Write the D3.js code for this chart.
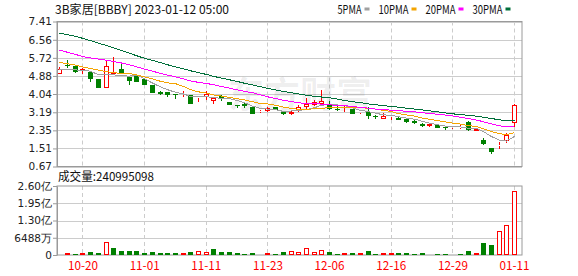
<!DOCTYPE html>
<html>
<head>
<meta charset="utf-8">
<script src="https://cdn.jsdelivr.net/npm/d3@7"></script>
<style>
  body { margin: 0; background: #fff; }
  svg text { font-family: 'Noto Sans CJK SC', sans-serif; }
</style>
</head>
<body>
<svg id="chart" width="578" height="276"></svg>
<script>
// trading days, 2022-10-17 .. 2023-01-11
const dates = ['10-17', '10-18', '10-19', '10-20', '10-21', '10-24', '10-25', '10-26', '10-27', '10-28', '10-31',
  '11-01', '11-02', '11-03', '11-04', '11-07', '11-08', '11-09', '11-10', '11-11', '11-14', '11-15', '11-16',
  '11-17', '11-18', '11-21', '11-22', '11-23', '11-25', '11-28', '11-29', '11-30', '12-01', '12-02', '12-05',
  '12-06', '12-07', '12-08', '12-09', '12-12', '12-13', '12-14', '12-15', '12-16', '12-19', '12-20', '12-21',
  '12-22', '12-23', '12-27', '12-28', '12-29', '12-30', '01-03', '01-04', '01-05', '01-06', '01-09', '01-10', '01-11']
const tickDates = ['10-20', '11-01', '11-11', '11-23', '12-06', '12-16', '12-29', '01-11']

const open = [4.99, 5.41, 5.33, 5.11, 5.07, 4.73, 4.34, 4.95, 5.19, 4.81,
  4.87, 4.73, 4.45, 4.12, 4.11, 4.03, 3.99, 4.01, 3.87, 3.89,
  3.70, 3.95, 3.67, 3.53, 3.56, 3.44, 3.20, 3.27, 3.44, 3.20,
  3.10, 3.27, 3.44, 3.52, 3.56, 3.59, 3.36, 3.39, 3.36, 3.15,
  3.20, 3.02, 2.90, 2.98, 2.94, 2.86, 2.78, 2.63, 2.54, 2.60,
  2.50, 2.46, 2.45, 2.74, 2.33, 1.91, 1.52, 1.62, 1.85, 2.71]
const high = [5.30, 5.61, 5.35, 5.27, 5.07, 4.76, 5.57, 5.77, 5.46, 4.81,
  4.99, 4.76, 4.45, 4.17, 4.13, 4.04, 4.18, 4.01, 3.92, 4.18,
  3.84, 3.98, 3.67, 3.53, 3.61, 3.45, 3.29, 3.42, 3.44, 3.20,
  3.31, 3.52, 3.86, 3.78, 4.21, 3.72, 3.48, 3.48, 3.36, 3.22,
  3.44, 3.08, 3.14, 3.08, 2.97, 2.92, 2.85, 2.68, 2.65, 2.62,
  2.55, 2.55, 2.60, 2.77, 2.45, 1.99, 1.52, 1.82, 2.22, 3.59]
const low = [4.99, 5.23, 5.03, 4.96, 4.60, 4.34, 4.34, 4.91, 4.99, 4.48,
  4.60, 4.45, 4.09, 3.98, 3.90, 3.80, 3.90, 3.58, 3.67, 3.75,
  3.58, 3.70, 3.53, 3.39, 3.37, 3.10, 3.14, 3.20, 3.30, 3.05,
  3.05, 3.20, 3.36, 3.48, 3.56, 3.28, 3.24, 3.20, 3.10, 3.10,
  2.89, 2.89, 2.90, 2.85, 2.82, 2.71, 2.64, 2.50, 2.50, 2.44,
  2.38, 2.40, 2.42, 2.30, 2.30, 1.65, 1.26, 1.50, 1.74, 2.50]
const close = [5.18, 5.35, 5.07, 5.18, 4.73, 4.34, 5.33, 5.07, 4.99, 4.63,
  4.60, 4.45, 4.09, 4.06, 4.01, 3.99, 4.03, 3.58, 3.92, 4.03,
  3.84, 3.80, 3.53, 3.49, 3.47, 3.13, 3.25, 3.38, 3.30, 3.10,
  3.20, 3.42, 3.58, 3.68, 3.71, 3.36, 3.30, 3.43, 3.13, 3.20,
  3.02, 2.96, 3.02, 3.04, 2.85, 2.74, 2.68, 2.55, 2.63, 2.47,
  2.44, 2.50, 2.49, 2.35, 2.40, 1.73, 1.34, 1.66, 2.12, 3.51]
const volume = [4900000, 7500000, 5000000, 7500000, 11300000, 7500000, 49000000, 26000000, 16000000, 16000000,
  16000000, 8800000, 11300000, 7500000, 7500000, 7500000, 7500000, 11300000, 15000000, 11300000,
  22600000, 11300000, 11300000, 7500000, 3800000, 7500000, 3800000, 7500000, 3800000, 11300000,
  15000000, 11300000, 25000000, 11300000, 17600000, 11300000, 3800000, 7500000, 7500000, 7500000,
  15000000, 3800000, 7500000, 7500000, 7500000, 7500000, 3800000, 7500000, 3800000, 3800000,
  3800000, 3800000, 3800000, 15000000, 7500000, 45000000, 37600000, 90000000, 113000000, 240995098]

const ma5 = [5.20, 5.18, 5.16, 5.14, 5.10, 4.93, 4.93, 4.93, 4.89, 4.87,
  4.92, 4.75, 4.55, 4.37, 4.24, 4.12, 4.04, 3.93, 3.91, 3.91,
  3.88, 3.83, 3.82, 3.74, 3.63, 3.48, 3.37, 3.34, 3.31, 3.23,
  3.25, 3.28, 3.32, 3.40, 3.52, 3.55, 3.53, 3.50, 3.39, 3.28,
  3.22, 3.15, 3.07, 3.05, 2.98, 2.92, 2.87, 2.77, 2.69, 2.61,
  2.55, 2.52, 2.51, 2.45, 2.44, 2.29, 2.06, 1.90, 1.85, 2.07]
const ma10 = [5.51, 5.45, 5.38, 5.30, 5.23, 5.15, 5.08, 5.03, 5.00, 4.99,
  4.93, 4.84, 4.74, 4.63, 4.56, 4.52, 4.39, 4.24, 4.14, 4.08,
  4.00, 3.94, 3.88, 3.82, 3.77, 3.68, 3.60, 3.58, 3.52, 3.43,
  3.37, 3.33, 3.33, 3.35, 3.38, 3.40, 3.40, 3.41, 3.39, 3.40,
  3.38, 3.34, 3.28, 3.22, 3.13, 3.07, 3.01, 2.92, 2.87, 2.80,
  2.74, 2.69, 2.64, 2.57, 2.53, 2.42, 2.29, 2.20, 2.15, 2.25]
const ma20 = [6.08, 5.98, 5.88, 5.78, 5.72, 5.66, 5.61, 5.55, 5.48, 5.40,
  5.30, 5.20, 5.10, 5.00, 4.92, 4.84, 4.74, 4.65, 4.58, 4.53,
  4.47, 4.39, 4.31, 4.23, 4.16, 4.10, 4.00, 3.91, 3.83, 3.75,
  3.69, 3.63, 3.60, 3.59, 3.57, 3.54, 3.50, 3.50, 3.46, 3.42,
  3.38, 3.34, 3.31, 3.29, 3.26, 3.24, 3.21, 3.17, 3.13, 3.10,
  3.06, 3.02, 2.96, 2.90, 2.83, 2.75, 2.65, 2.56, 2.51, 2.53]
const ma30 = [6.86, 6.80, 6.72, 6.63, 6.52, 6.40, 6.30, 6.18, 6.06, 5.94,
  5.82, 5.70, 5.60, 5.50, 5.40, 5.30, 5.21, 5.12, 5.03, 4.95,
  4.86, 4.78, 4.70, 4.62, 4.54, 4.46, 4.38, 4.30, 4.23, 4.16,
  4.10, 4.04, 3.98, 3.93, 3.90, 3.87, 3.80, 3.74, 3.68, 3.64,
  3.58, 3.54, 3.50, 3.46, 3.43, 3.38, 3.34, 3.30, 3.26, 3.21,
  3.16, 3.12, 3.08, 3.05, 3.01, 2.96, 2.90, 2.84, 2.80, 2.82]

const priceTicks = ['0.67', '1.51', '2.35', '3.19', '4.04', '4.88', '5.72', '6.56', '7.41']
const volTickValues = [0, 64880000, 129760000, 194640000, 259520000]
const volTickLabels = ['0', '6488万', '1.30亿', '1.95亿', '2.60亿']

const maNames = ['5PMA', '10PMA', '20PMA', '30PMA']
const maColors = ['#a0a0a0', '#f4a400', '#ff00ff', '#006f3a']
const maSeries = [ma5, ma10, ma20, ma30]

const RED = '#ff0000'
const GREEN = '#008000'
const GRID = '#cccccc'
const FRAME = '#9a9a9a'

// layout
const left = 57
const right = 522
const priceTop = 21.5
const priceBottom = 166.5
const volTop = 186
const volBottom = 255

const svg = d3.select('#chart')

// width of text in half-width cells of 6px (bitmap-like font)
function cells(s) {
  let n = 0
  for (const c of s) n += c.charCodeAt(0) > 255 ? 2 : 1
  return n * 6
}
function monoText(g, str, xPos, yPos) {
  return g.append('text')
    .attr('x', xPos)
    .attr('y', yPos)
    .attr('textLength', cells(str))
    .attr('lengthAdjust', 'spacingAndGlyphs')
    .style('font-size', '12px')
    .text(str)
}

const x = d3.scaleBand().domain(dates).range([56, 518.4]).paddingInner(0.35).paddingOuter(0.175)
const cx = (i) => Math.floor(x(dates[i]) + x.bandwidth() / 2)

const y = d3.scaleLinear().domain([0.67, 7.41]).range([priceBottom, priceTop])
const yv = d3.scaleLinear().domain([0, 259520000]).range([volBottom, volTop])

// grid: horizontal
svg.append('g')
  .selectAll('line')
  .data(priceTicks.map(Number))
  .join('line')
  .attr('x1', left).attr('x2', right)
  .attr('y1', (d) => Math.round(y(d)) + 0.5).attr('y2', (d) => Math.round(y(d)) + 0.5)
  .attr('stroke', GRID)

svg.append('g')
  .selectAll('line')
  .data(volTickValues.slice(1, 4))
  .join('line')
  .attr('x1', left).attr('x2', right)
  .attr('y1', (d) => Math.round(yv(d)) + 0.5).attr('y2', (d) => Math.round(yv(d)) + 0.5)
  .attr('stroke', GRID)

// grid: vertical dashed at date ticks
const vGrid = svg.append('g').attr('stroke', GRID).attr('stroke-dasharray', '4,3')
tickDates.forEach((d) => {
  const xx = cx(dates.indexOf(d)) + 0.5
  vGrid.append('line').attr('x1', xx).attr('x2', xx).attr('y1', priceTop).attr('y2', priceBottom)
  vGrid.append('line').attr('x1', xx).attr('x2', xx).attr('y1', volTop).attr('y2', volBottom)
})

// watermark
svg.append('text')
  .attr('x', 300).attr('y', 108)
  .attr('text-anchor', 'middle')
  .style('font-size', '36px')
  .style('font-weight', 'bold')
  .attr('fill', '#000')
  .attr('fill-opacity', 0.07)
  .text('东方财富')

// frames
svg.append('rect').attr('x', left).attr('y', priceTop).attr('width', right - left).attr('height', priceBottom - priceTop)
  .attr('fill', 'none').attr('stroke', FRAME)
svg.append('rect').attr('x', left).attr('y', volTop).attr('width', right - left).attr('height', volBottom - volTop)
  .attr('fill', 'none').attr('stroke', FRAME)

// candles
const candles = svg.append('g').attr('shape-rendering', 'crispEdges')
dates.forEach((d, i) => {
  const up = close[i] >= open[i]
  const c = up ? RED : GREEN
  const xm = cx(i) + 0.5
  const top = Math.round(y(Math.max(open[i], close[i])))
  const bot = Math.max(Math.round(y(Math.min(open[i], close[i]))), top + 1)
  const yh = Math.round(y(high[i]))
  const yl = Math.round(y(low[i]))
  if (up) {
    if (yh < top) candles.append('line').attr('x1', xm).attr('x2', xm).attr('y1', yh).attr('y2', top).attr('stroke', c)
    if (yl > bot) candles.append('line').attr('x1', xm).attr('x2', xm).attr('y1', bot).attr('y2', yl).attr('stroke', c)
    candles.append('rect')
      .attr('x', cx(i) - 1.5).attr('y', top + 0.5)
      .attr('width', 4).attr('height', Math.max(bot - top - 1, 0))
      .attr('fill', '#fff').attr('stroke', c)
  } else {
    candles.append('line').attr('x1', xm).attr('x2', xm).attr('y1', yh).attr('y2', yl).attr('stroke', c)
    candles.append('rect')
      .attr('x', cx(i) - 2).attr('y', top)
      .attr('width', 5).attr('height', Math.max(bot - top, 1))
      .attr('fill', c)
  }
})

// moving averages
const maLine = d3.line().x((d, i) => cx(i) + 0.5).y((d) => y(d))
const maG = svg.append('g').attr('fill', 'none').attr('shape-rendering', 'crispEdges')
maSeries.forEach((s, k) => {
  maG.append('path').attr('d', maLine(s)).attr('stroke', maColors[k]).attr('stroke-width', 1)
})

// volume bars, coloured by change against previous close
const bars = svg.append('g').attr('shape-rendering', 'crispEdges')
volume.forEach((v, i) => {
  const up = i === 0 ? close[i] >= open[i] : close[i] >= close[i - 1]
  const top = Math.round(yv(v))
  if (up) {
    bars.append('rect')
      .attr('x', cx(i) - 1.5).attr('y', top + 0.5)
      .attr('width', 4).attr('height', Math.max(volBottom - top - 1, 0))
      .attr('fill', '#fff').attr('stroke', RED)
  } else {
    bars.append('rect')
      .attr('x', cx(i) - 2).attr('y', top)
      .attr('width', 5).attr('height', volBottom - top)
      .attr('fill', GREEN)
  }
})

// axes
function styleAxis(g) {
  g.select('.domain').attr('stroke', FRAME)
  g.selectAll('.tick line').attr('stroke', FRAME)
  g.selectAll('.tick text')
    .attr('fill', '#222')
    .style('font-family', "'DejaVu Sans', sans-serif")
    .style('font-size', '10.5px')
}

svg.append('g')
  .attr('transform', `translate(${left},0)`)
  .call(d3.axisLeft(y).tickValues(priceTicks.map(Number)).tickFormat((d, i) => priceTicks[i]).tickSize(4).tickSizeOuter(0).tickPadding(1))
  .call(styleAxis)

svg.append('g')
  .attr('transform', `translate(${left},0)`)
  .call(d3.axisLeft(yv).tickValues(volTickValues).tickFormat((d, i) => volTickLabels[i]).tickSize(4).tickSizeOuter(0).tickPadding(1))
  .call(styleAxis)

const xAxis = svg.append('g')
  .attr('transform', `translate(0,${volBottom})`)
  .call(d3.axisBottom(x).tickValues(tickDates).tickSize(0).tickPadding(6.5))
xAxis.select('.domain').remove()
xAxis.selectAll('.tick text')
  .attr('fill', RED)
  .style('font-size', '12px')
  .attr('textLength', 30)
  .attr('lengthAdjust', 'spacingAndGlyphs')

// header and legend
monoText(svg, '3B家居[BBBY] 2023-01-12 05:00', 55, 14).attr('fill', '#111')
let lx = 337.5
maNames.forEach((name, k) => {
  monoText(svg, name, lx, 14).attr('fill', '#111')
  const w = cells(name)
  svg.append('rect').attr('x', lx + w + 3).attr('y', 7.5).attr('width', 5).attr('height', 3).attr('fill', maColors[k])
  lx += w + 17
})

monoText(svg, '成交量:' + volume[volume.length - 1], 58, 181).attr('fill', '#111')
</script>
</body>
</html>
